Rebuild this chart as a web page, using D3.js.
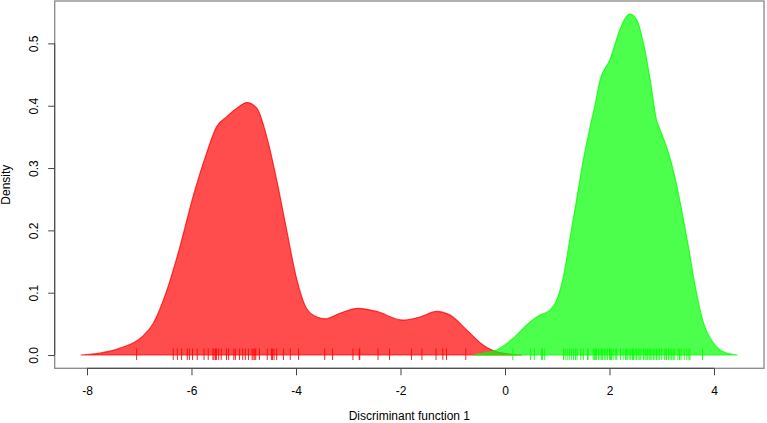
<!DOCTYPE html>
<html lang="en">
<head>
    <meta charset="UTF-8">
    <title>Discriminant function density</title>
    <style>
        body { margin: 0; background: #fff; }
        svg { display: block; font-family: "Liberation Sans", Arial, sans-serif; font-size: 12px; }
        .axis path, .axis line { stroke: #444; }
        .axis text { fill: #000; font-size: 12px; font-family: "Liberation Sans", Arial, sans-serif; }
    </style>
    <script src="https://cdn.jsdelivr.net/npm/d3@7"></script>
</head>
<body>
    <div id="chart"></div>
    <script>
        // density curve of group 1 (red)
        var redX = [-8.12, -7.75, -7.37, -6.95, -6.73, -6.47, -6.22, -5.97, -5.71, -5.52, -5.33, -5.13, -4.94,
            -4.75, -4.56, -4.37, -4.18, -3.99, -3.80, -3.60, -3.44, -3.16, -2.81, -2.46, -1.95, -1.63, -1.31,
            -1.05, -0.73, -0.42, -0.16, 0.32];
        var redY = [0, 0.003, 0.011, 0.029, 0.051, 0.104, 0.174, 0.254, 0.324, 0.366, 0.382, 0.396, 0.405,
            0.396, 0.350, 0.281, 0.201, 0.123, 0.075, 0.061, 0.058, 0.067, 0.075, 0.070, 0.056, 0.061, 0.070,
            0.064, 0.040, 0.016, 0.005, 0];
        // density curve of group 2 (green)
        var greenX = [-0.61, -0.40, -0.16, 0.16, 0.48, 0.67, 0.86, 0.99, 1.12, 1.24, 1.37, 1.50, 1.63, 1.72,
            1.82, 2.01, 2.20, 2.30, 2.39, 2.52, 2.65, 2.78, 2.90, 2.97, 3.13, 3.25, 3.38, 3.51, 3.64, 3.80,
            3.99, 4.24, 4.45];
        var greenY = [0, 0.003, 0.008, 0.027, 0.053, 0.064, 0.072, 0.088, 0.126, 0.185, 0.249, 0.313, 0.366, 0.400,
            0.441, 0.474, 0.522, 0.540, 0.547, 0.538, 0.500, 0.441, 0.377, 0.361, 0.324, 0.286, 0.233, 0.174,
            0.110, 0.051, 0.019, 0.003, 0];
        // rug values (scores)
        var redRug = [-7.05, -6.35, -6.27, -6.19, -6.08, -6.04, -5.98, -5.89, -5.76, -5.68, -5.59, -5.57, -5.54,
            -5.52, -5.48, -5.43, -5.33, -5.29, -5.19, -5.16, -5.08, -5.02, -4.97, -4.91, -4.84, -4.82, -4.79,
            -4.77, -4.70, -4.55, -4.47, -4.45, -4.42, -4.37, -4.24, -4.11, -3.95, -3.45, -3.30, -2.91, -2.79,
            -2.78, -2.43, -2.21, -1.79, -1.59, -1.32, -1.19, -1.12, -0.75];
        var greenRug = [0.15, 0.49, 0.56, 0.70, 0.72, 0.76, 1.12, 1.15, 1.19, 1.23, 1.27, 1.31, 1.35, 1.38, 1.45,
            1.50, 1.58, 1.59, 1.69, 1.71, 1.73, 1.75, 1.79, 1.82, 1.85, 1.87, 1.90, 1.93, 1.96, 2.00, 2.02,
            2.04, 2.07, 2.12, 2.14, 2.21, 2.26, 2.31, 2.32, 2.35, 2.39, 2.41, 2.44, 2.46, 2.49, 2.52, 2.55,
            2.58, 2.60, 2.65, 2.68, 2.70, 2.73, 2.76, 2.78, 2.81, 2.84, 2.87, 2.90, 2.93, 2.96, 3.00, 3.05,
            3.08, 3.09, 3.13, 3.16, 3.19, 3.22, 3.25, 3.31, 3.34, 3.37, 3.43, 3.48, 3.52, 3.54, 3.78];
        var xTicks = [-8, -6, -4, -2, 0, 2, 4];
        var yTicks = [0, 0.1, 0.2, 0.3, 0.4, 0.5];

        var width = 767, height = 423;
        var plot = { left: 54.7, right: 764, top: 1, bottom: 368.3 };

        var svg = d3.select("#chart").append("svg")
            .attr("width", width)
            .attr("height", height);

        // R style limits: data range padded by 4%
        var x = d3.scaleLinear().domain([-8.618, 4.957]).range([plot.left, plot.right]);
        var y = d3.scaleLinear().domain([-0.0213, 0.568]).range([plot.bottom, plot.top]);

        var line = d3.line()
            .x(function (d) { return x(d[0]); })
            .y(function (d) { return y(d[1]); })
            .curve(d3.curveMonotoneX);

        function drawGroup(xs, ys, rug, col) {
            var pts = xs.map(function (v, i) { return [v, ys[i]]; });
            svg.append("path")
                .attr("d", line(pts) + "Z")
                .attr("fill", col)
                .attr("fill-opacity", 0.7)
                .attr("stroke", col)
                .attr("stroke-opacity", 0.75)
                .attr("stroke-width", 1.2);
            svg.append("g").selectAll("line")
                .data(rug)
                .enter().append("line")
                .attr("x1", function (d) { return x(d); })
                .attr("x2", function (d) { return x(d); })
                .attr("y1", y(0) + 5)
                .attr("y2", y(0) - 6.5)
                .attr("stroke", col)
                .attr("stroke-opacity", 0.85)
                .attr("stroke-width", 1);
        }

        drawGroup(redX, redY, redRug, "#ff0000");
        drawGroup(greenX, greenY, greenRug, "#00ff00");

        // box
        svg.append("rect")
            .attr("x", plot.left)
            .attr("y", plot.top)
            .attr("width", plot.right - plot.left)
            .attr("height", plot.bottom - plot.top)
            .attr("fill", "none")
            .attr("stroke", "#888")
            .attr("stroke-width", 1.3);

        // x axis (plain hyphen minus like R)
        var xAxis = svg.append("g")
            .attr("class", "axis")
            .attr("transform", "translate(0," + plot.bottom + ")")
            .call(d3.axisBottom(x).tickValues(xTicks).tickSize(7).tickPadding(11).tickSizeOuter(0)
                .tickFormat(function (d) { return String(d); }));
        xAxis.select(".domain").attr("d", "M" + x(xTicks[0]) + ",0H" + x(xTicks[xTicks.length - 1]));
        xAxis.selectAll("text").attr("dy", "0.71em");

        // y axis, labels rotated like R
        var yAxis = svg.append("g")
            .attr("class", "axis")
            .attr("transform", "translate(" + plot.left + ",0)")
            .call(d3.axisLeft(y).tickValues(yTicks).tickSize(6.5).tickSizeOuter(0)
                .tickFormat(d3.format(".1f")));
        yAxis.select(".domain").attr("d", "M0," + y(yTicks[0]) + "V" + y(yTicks[yTicks.length - 1]));
        yAxis.selectAll("text")
            .attr("transform", "rotate(-90)")
            .attr("x", 0)
            .attr("y", -16.5)
            .attr("dy", 0)
            .attr("text-anchor", "middle");

        svg.append("text")
            .attr("x", (plot.left + plot.right) / 2)
            .attr("y", 420)
            .attr("text-anchor", "middle")
            .text("Discriminant function 1");

        svg.append("text")
            .attr("transform", "translate(10," + (plot.top + plot.bottom) / 2 + ") rotate(-90)")
            .attr("text-anchor", "middle")
            .text("Density");
    </script>
</body>
</html>
